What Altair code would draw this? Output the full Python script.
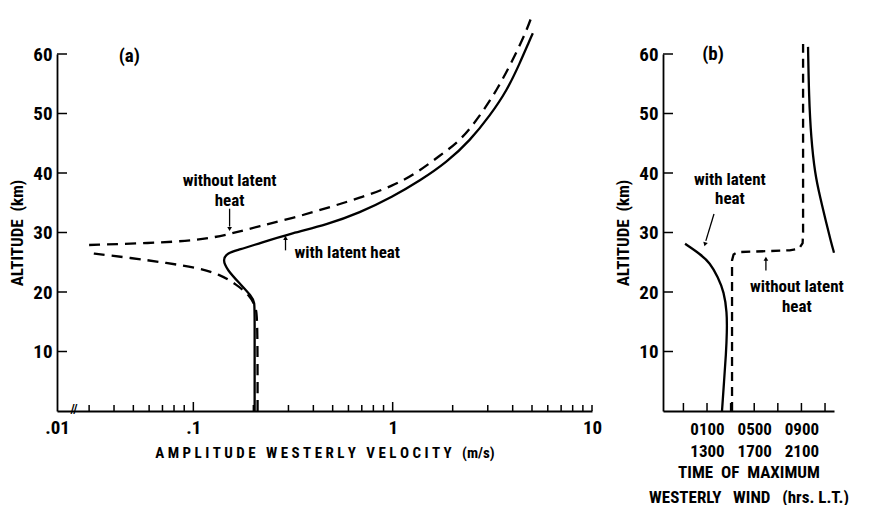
import altair as alt
import pandas as pd

FONT = "Roboto Condensed, Roboto, Liberation Sans"
TFONT = "Roboto Condensed, Roboto, Liberation Sans"
NB = "\u00a0"

# ---------------- Panel (a): amplitude of westerly velocity ----------------
a_with_x = [0.203, 0.203, 0.203, 0.196, 0.170, 0.148, 0.140, 0.148, 0.170, 0.215,
            0.314, 0.466, 0.683, 1.0, 1.37, 1.87, 2.45, 3.07, 3.75, 4.35, 4.88, 5.05]
a_with_y = [0, 16.5, 18.2, 19.3, 21.5, 23.7, 25.4, 26.6, 27.1, 28.2,
            29.9, 31.3, 33.3, 36.0, 38.7, 41.8, 45.5, 49.6, 53.9, 58.5, 62.4, 63.5]

a_wo_lower_x = [0.210, 0.210, 0.205, 0.191, 0.164, 0.135, 0.107, 0.0732, 0.0493, 0.0293]
a_wo_lower_y = [0, 16.0, 17.6, 19.5, 21.3, 23.0, 24.0, 24.9, 25.7, 26.6]
a_wo_upper_x = [0.030, 0.060, 0.107, 0.152, 0.215, 0.314, 0.466, 0.683, 1.0, 1.32,
                1.72, 2.20, 2.74, 3.33, 4.01, 4.71, 5.05]
a_wo_upper_y = [27.9, 28.2, 28.7, 29.7, 31.1, 32.4, 34.1, 35.8, 37.8, 40.0,
                42.9, 45.5, 49.6, 53.9, 59.0, 64.0, 66.9]

a_xlabels = [0.0207, 0.1, 1, 10]
a_major = [0.1, 1]
a_minor = [0.03, 0.04, 0.05, 0.06, 0.07, 0.08, 0.09,
           0.2, 0.3, 0.4, 0.5, 0.6, 0.7, 0.8, 0.9,
           2, 3, 4, 5, 6, 7, 8, 9, 10]
y_ticks = [10, 20, 30, 40, 50, 60]

# ---------------- Panel (b): time of maximum westerly wind (hours) ----------------
b_with_low_h = [-0.86, 0.41, 1.25, 1.93, 2.44, 2.69, 2.69, 2.61, 2.44, 2.27]
b_with_low_y = [28.1, 26.4, 24.9, 22.5, 20.0, 16.6, 13.3, 9.6, 4.9, 0]
b_with_up_h = [9.56, 9.64, 9.81, 10.15, 10.58, 11.08, 11.51, 11.76]
b_with_up_y = [61.2, 52.8, 46.1, 39.8, 36.0, 31.8, 28.4, 26.6]
b_wo_h = [3.12, 3.12, 3.25, 3.6, 8.0, 8.8, 9.1, 9.14, 9.14]
b_wo_y = [0, 25.3, 26.3, 26.7, 27.0, 27.3, 28.2, 30.0, 61.7]

b_ticks = [-1, 1, 3, 5, 7, 9, 11]
b_labels = [1, 5, 9]

WA, HA = 535, 357
WB, HB = 171, 357


def line_df(xs, ys, seg):
    return pd.DataFrame({"x": xs, "y": ys, "seg": seg, "i": list(range(len(xs)))})


def spaced(words, n=3):
    return (NB * n).join(words)


def letterspaced(word):
    return NB.join(list(word))


# ---------------- shared encodings ----------------
xa_scale = alt.Scale(type="log", domain=[0.0207, 10], nice=False)
ya_scale = alt.Scale(domain=[0, 60], nice=False)
xb_scale = alt.Scale(domain=[-2.73, 11.76], nice=False)

xa_axis = alt.Axis(values=a_xlabels, ticks=False, grid=False, labelFlush=False, labelPadding=7,
                   labelExpr="datum.value < 0.05 ? '.01' : datum.value < 0.5 ? '.1' : datum.value < 5 ? '1' : '10'",
                   title=spaced([letterspaced("AMPLITUDE"), letterspaced("WESTERLY"),
                                 letterspaced("VELOCITY"), "(m/s)"], 3),
                   titlePadding=8, titleFontSize=15)
y_axis = alt.Axis(values=y_ticks, ticks=False, grid=False, title=spaced(["ALTITUDE", "(km)"], 2),
                  titlePadding=6)
xb_axis = alt.Axis(values=b_labels, ticks=False, grid=False, labelFlush=False, labelPadding=10,
                   labelLineHeight=22, labelFontSize=17, titlePadding=5,
                   labelExpr="datum.value == 1 ? ['0100','1300'] : datum.value == 5 ? ['0500','1700'] : ['0900','2100']",
                   title=[spaced(["TIME", "OF", "MAXIMUM"], 2), spaced(["WESTERLY", "WIND", "(hrs. L.T.)"], 3)])

XA = alt.X("x:Q", scale=xa_scale, axis=xa_axis)
YA = alt.Y("y:Q", scale=ya_scale, axis=y_axis)
XB = alt.X("x:Q", scale=xb_scale, axis=xb_axis)

# ---------------- panel (a) ----------------
a_solid = alt.Chart(line_df(a_with_x, a_with_y, "with")).mark_line(
    color="black", strokeWidth=2.3, interpolate="basis").encode(
    x=XA, y=YA, order="i:Q")
a_dash = alt.Chart(pd.concat([line_df(a_wo_lower_x, a_wo_lower_y, "low"),
                              line_df(a_wo_upper_x, a_wo_upper_y, "up")])).mark_line(
    color="black", strokeWidth=2.3, strokeDash=[11, 7], interpolate="basis").encode(
    x=XA, y=YA, detail="seg:N", order="i:Q")

a_yt = alt.Chart(pd.DataFrame({"y": y_ticks})).mark_rule(color="black", strokeWidth=1.5).encode(
    y=YA, x=alt.value(0), x2=alt.value(10))
a_xt_major = alt.Chart(pd.DataFrame({"x": a_major})).mark_rule(color="black", strokeWidth=1.5).encode(
    x=XA, y=alt.value(HA), y2=alt.value(HA - 9))
a_xt_minor = alt.Chart(pd.DataFrame({"x": a_minor})).mark_rule(color="black", strokeWidth=1.5).encode(
    x=XA, y=alt.value(HA), y2=alt.value(HA - 6))

a_text = pd.DataFrame({
    "x": [0.0477, 0.152, 0.152, 0.322],
    "y": [59.7, 38.7, 35.3, 26.6],
    "t": ["(a)", "without latent", "heat", "with latent heat"],
    "al": ["center", "center", "center", "left"],
    "fs": [19, 17, 17, 17],
})
a_lab_c = alt.Chart(a_text[a_text.al == "center"]).mark_text(
    font=FONT, fontWeight="bold", align="center", baseline="middle").encode(
    x=XA, y=YA, text="t:N", size=alt.Size("fs:Q", scale=None))
a_lab_l = alt.Chart(a_text[a_text.al == "left"]).mark_text(
    font=FONT, fontWeight="bold", align="left", baseline="middle").encode(
    x=XA, y=YA, text="t:N", size=alt.Size("fs:Q", scale=None))
a_break = alt.Chart(pd.DataFrame({"x": [0.0252], "y": [0.4], "t": ["//"]})).mark_text(
    font=FONT, fontSize=13, fontWeight="bold", align="center", baseline="middle").encode(
    x=XA, y=YA, text="t:N")

# arrows in (a)
a_arrows = pd.DataFrame({"x": [0.152, 0.29], "y": [34.0, 27.0], "x2": [0.152, 0.29], "y2": [31.0, 28.9]})
a_arr_line = alt.Chart(a_arrows).mark_rule(color="black", strokeWidth=1.3).encode(
    x=XA, y=YA, x2="x2:Q", y2="y2:Q")
a_heads = pd.DataFrame({"x": [0.152, 0.29], "y": [30.6, 29.1], "shape": ["triangle-down", "triangle-up"]})
a_head = alt.Chart(a_heads).mark_point(filled=True, color="black", size=22, opacity=1).encode(
    x=XA, y=YA, shape=alt.Shape("shape:N", scale=None))

panel_a = alt.layer(a_yt, a_xt_major, a_xt_minor, a_solid, a_dash, a_lab_c, a_lab_l,
                    a_break, a_arr_line, a_head).properties(width=WA, height=HA)

# ---------------- panel (b) ----------------
b_solid = alt.Chart(pd.concat([line_df(b_with_low_h, b_with_low_y, "low"),
                               line_df(b_with_up_h, b_with_up_y, "up")])).mark_line(
    color="black", strokeWidth=2.3, interpolate="basis").encode(
    x=XB, y=YA, detail="seg:N", order="i:Q")
b_dash = alt.Chart(line_df(b_wo_h, b_wo_y, "wo")).mark_line(
    color="black", strokeWidth=2.3, strokeDash=[9, 6]).encode(
    x=XB, y=YA, order="i:Q")

b_yt = alt.Chart(pd.DataFrame({"y": y_ticks})).mark_rule(color="black", strokeWidth=1.5).encode(
    y=YA, x=alt.value(0), x2=alt.value(10))
b_xt = alt.Chart(pd.DataFrame({"x": b_ticks})).mark_rule(color="black", strokeWidth=1.5).encode(
    x=XB, y=alt.value(HB), y2=alt.value(HB - 8))

b_text = pd.DataFrame({
    "x": [1.51, 2.94, 2.94, 8.61, 8.61],
    "y": [60.0, 38.8, 35.6, 20.8, 17.5],
    "t": ["(b)", "with latent", "heat", "without latent", "heat"],
    "fs": [19, 17, 17, 17, 17],
})
b_lab = alt.Chart(b_text).mark_text(
    font=FONT, fontWeight="bold", align="center", baseline="middle").encode(
    x=XB, y=YA, text="t:N", size=alt.Size("fs:Q", scale=None))

b_arrows = pd.DataFrame({"x": [1.59, 5.99], "y": [33.1, 23.6], "x2": [0.90, 5.99], "y2": [28.6, 25.4]})
b_arr_line = alt.Chart(b_arrows).mark_rule(color="black", strokeWidth=1.3).encode(
    x=XB, y=YA, x2="x2:Q", y2="y2:Q")
b_heads = pd.DataFrame({"x": [0.83, 5.99], "y": [28.0, 25.6], "shape": ["triangle-down", "triangle-up"],
                        "ang": [16, 0]})
b_head = alt.Chart(b_heads).mark_point(filled=True, color="black", size=22, opacity=1).encode(
    x=XB, y=YA, shape=alt.Shape("shape:N", scale=None), angle=alt.Angle("ang:Q", scale=None))

panel_b = alt.layer(b_yt, b_xt, b_solid, b_dash, b_lab, b_arr_line, b_head).properties(width=WB, height=HB)

chart = alt.hconcat(panel_a, panel_b, spacing=12).properties(
    padding={"left": 0, "top": 0, "right": 0, "bottom": 0}
).configure_view(stroke=None).configure_axis(
    domainColor="black", domainWidth=1.8,
    labelFont=FONT, labelFontSize=19, labelFontWeight="bold", labelColor="black",
    labelPadding=5,
    titleFont=TFONT, titleFontSize=17, titleFontWeight="bold", titleColor="black",
    titleLineHeight=25,
)

chart.save("out.html", embed_options={"renderer": "svg", "actions": False})
